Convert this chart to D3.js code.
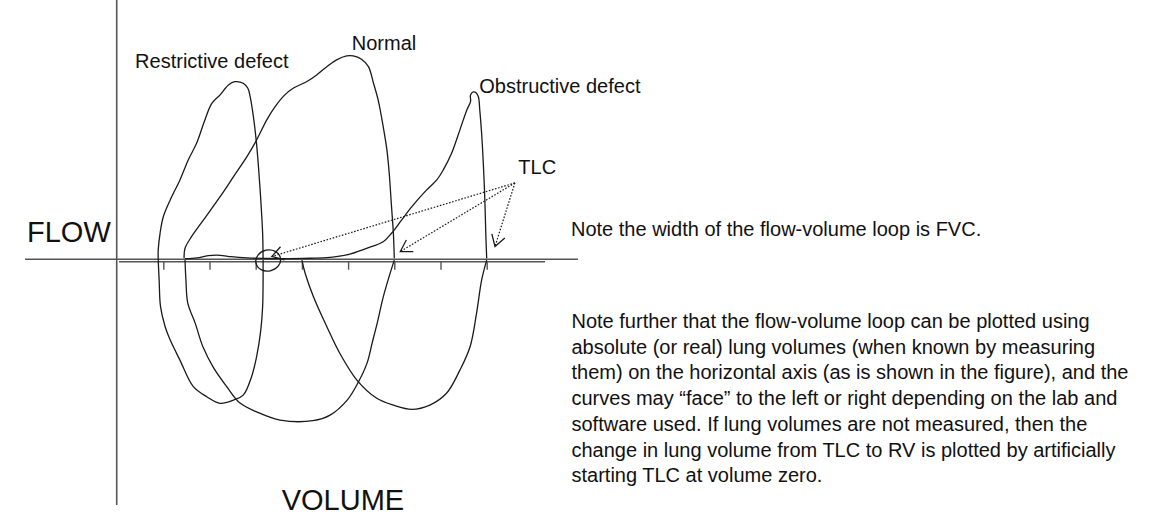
<!DOCTYPE html>
<html>
<head>
<meta charset="utf-8">
<script src="https://cdn.jsdelivr.net/npm/d3@7"></script>
<style>
  html, body { margin: 0; padding: 0; background: #fff; }
  svg { display: block; font-family: "Liberation Sans", Arial, sans-serif; }
</style>
</head>
<body>
<div id="chart"></div>
<script>
// flow-volume loops, hand-drawn sketch
// volume in litres (x), flow in L/s (y)

var volumeTicks = [1, 2, 3, 4, 5, 6, 7, 8];

var restrictiveExp = [[3.16,0.05],[3.15,1.3],[3.11,2.97],[3.06,4.63],[3.01,5.97],[2.95,7.13],[2.88,8.13],[2.83,8.55],
  [2.73,8.8],[2.55,8.88],[2.41,8.72],[2.23,8.22],[2.05,7.8],[1.9,6.97],[1.72,5.8],[1.54,4.97],[1.36,3.97],[1.15,2.97],
  [1.0,2.13],[0.93,1.3],[0.89,0.47],[0.89,-0.04]];
var restrictiveInsp = [[0.89,-0.04],[0.91,-1.04],[0.94,-2.37],[1.04,-3.37],[1.15,-4.04],[1.36,-5.04],[1.65,-6.37],
  [1.94,-6.87],[2.23,-7.2],[2.52,-7.04],[2.73,-6.79],[2.91,-5.87],[3.02,-4.87],[3.11,-3.54],[3.15,-2.37],[3.16,-1.04],[3.16,-0.04]];

var normalExp = [[6.0,0.05],[5.98,1.3],[5.94,2.63],[5.89,4.3],[5.84,5.47],[5.76,6.63],[5.65,7.97],[5.55,8.8],[5.44,9.63],
  [5.29,10.0],[5.11,10.17],[4.97,10.17],[4.75,9.97],[4.54,9.63],[4.32,9.22],[4.1,8.88],[3.81,8.55],[3.63,8.22],[3.42,7.63],
  [3.24,6.97],[3.02,5.97],[2.81,5.13],[2.52,4.13],[2.23,3.13],[1.87,1.97],[1.61,1.13],[1.47,0.55],[1.45,0.05]];
var normalInsp = [[1.47,-0.03],[1.49,-1.04],[1.53,-2.19],[1.69,-3.19],[1.86,-4.39],[2.08,-5.39],[2.38,-6.39],[2.66,-7.19],
  [3.03,-7.64],[3.53,-8.04],[4.24,-8.07],[4.61,-7.79],[4.98,-7.04],[5.21,-6.19],[5.41,-5.19],[5.52,-4.19],[5.63,-3.19],
  [5.76,-1.89],[5.91,-0.69],[6.0,-0.04]];

var obstructiveExp = [[8.0,0.05],[7.98,1.3],[7.96,2.97],[7.93,4.63],[7.89,6.3],[7.85,7.47],[7.82,8.13],[7.77,8.33],
  [7.71,8.37],[7.65,8.22],[7.65,7.88],[7.57,7.47],[7.42,6.47],[7.24,5.3],[7.06,4.47],[6.92,3.97],[6.7,3.47],[6.38,2.63],
  [6.16,1.97],[5.94,1.3],[5.76,0.88],[5.4,0.55],[4.97,0.22],[4.54,0.08],[4.03,0.05],[3.31,0.04],[2.81,0.07],[2.47,0.13],
  [2.23,0.2],[1.97,0.18],[1.73,0.07],[1.47,0.03]];
var obstructiveInsp = [[4.0,-0.04],[4.07,-0.7],[4.25,-1.87],[4.54,-3.37],[4.82,-4.7],[5.19,-6.04],[5.62,-6.95],[5.98,-7.29],
  [6.38,-7.5],[6.77,-7.29],[7.13,-6.7],[7.42,-5.54],[7.64,-4.37],[7.78,-2.7],[7.89,-1.04],[8.0,-0.04]];

var loopLabels = ["Restrictive defect", "Normal", "Obstructive defect"];
var labelPos = [[0.39,9.55], [5.08,10.47], [7.84,8.3]];   // [volume, flow] of label start (baseline)

var tlcLabel = "TLC";
var tlcOrigin = [8.61, 3.82];
var tlcTargets = [[3.35,0.14], [6.13,0.39], [8.18,0.64]];
var rvCircle = [3.27, -0.06];

var noteLine = "Note the width of the flow-volume loop is FVC.";
var noteParagraph = [
  "Note further that the flow-volume loop can be plotted using",
  "absolute (or real) lung volumes (when known by measuring",
  "them) on the horizontal axis (as is shown in the figure), and the",
  "curves may \u201cface\u201d to the left or right depending on the lab and",
  "software used. If lung volumes are not measured, then the",
  "change in lung volume from TLC to RV is plotted by artificially",
  "starting TLC at volume zero."
];

var width = 1174, height = 530;
var svg = d3.select("#chart").append("svg")
    .attr("width", width)
    .attr("height", height);

var x = d3.scaleLinear().domain([0, 8]).range([117.1, 486.7]);
var y = d3.scaleLinear().domain([0, 10]).range([259.3, 59.3]);

var axisColor = "#555";
var inkColor = "#1a1a1a";

// axes
svg.append("line")
    .attr("x1", 116.7).attr("x2", 116.7)
    .attr("y1", 0).attr("y2", 505)
    .attr("stroke", axisColor).attr("stroke-width", 1.6);
svg.append("line")
    .attr("x1", 25).attr("x2", 578)
    .attr("y1", y(0)).attr("y2", y(0))
    .attr("stroke", axisColor).attr("stroke-width", 1.5);
svg.append("line")
    .attr("x1", 119).attr("x2", 545)
    .attr("y1", y(0) + 2.4).attr("y2", y(0) + 2.4)
    .attr("stroke", axisColor).attr("stroke-width", 1.5);

var xAxis = svg.append("g")
    .attr("transform", "translate(0," + (y(0) + 2.4) + ")")
    .call(d3.axisBottom(x).tickValues(volumeTicks).tickSize(8).tickSizeOuter(0).tickFormat(""));
xAxis.select(".domain").remove();
xAxis.selectAll(".tick line").attr("stroke", axisColor).attr("stroke-width", 1.4);

// loops
var line = d3.line()
    .x(function(d) { return x(d[0]); })
    .y(function(d) { return y(d[1]); })
    .curve(d3.curveCatmullRom.alpha(0.5));

var curves = [restrictiveExp, restrictiveInsp, normalExp, normalInsp, obstructiveExp, obstructiveInsp];
svg.selectAll(".loop").data(curves).enter().append("path")
    .attr("class", "loop")
    .attr("d", line)
    .attr("fill", "none")
    .attr("stroke", inkColor)
    .attr("stroke-width", 1.3)
    .attr("stroke-linejoin", "round");

// little circle drawn round the restrictive TLC
svg.append("ellipse")
    .attr("cx", x(rvCircle[0]))
    .attr("cy", y(rvCircle[1]))
    .attr("rx", 12.5)
    .attr("ry", 10.5)
    .attr("transform", "rotate(-12," + x(rvCircle[0]) + "," + y(rvCircle[1]) + ")")
    .attr("fill", "none")
    .attr("stroke", inkColor)
    .attr("stroke-width", 1.3);

// TLC pointers
svg.selectAll(".tlc-line").data(tlcTargets).enter().append("line")
    .attr("class", "tlc-line")
    .attr("x1", x(tlcOrigin[0])).attr("y1", y(tlcOrigin[1]))
    .attr("x2", function(d) { return x(d[0]); })
    .attr("y2", function(d) { return y(d[1]); })
    .attr("stroke", inkColor)
    .attr("stroke-width", 1.2)
    .attr("stroke-dasharray", "1.6,1.6");

svg.selectAll(".tlc-head").data(tlcTargets).enter().append("path")
    .attr("class", "tlc-head")
    .attr("d", function(d) {
        var tx = x(d[0]), ty = y(d[1]);
        var a = Math.atan2(y(tlcOrigin[1]) - ty, x(tlcOrigin[0]) - tx);
        var len = 13, spread = 0.55;
        return "M" + (tx + len * Math.cos(a - spread)) + "," + (ty + len * Math.sin(a - spread)) +
               "L" + tx + "," + ty +
               "L" + (tx + len * Math.cos(a + spread)) + "," + (ty + len * Math.sin(a + spread));
    })
    .attr("fill", "none")
    .attr("stroke", inkColor)
    .attr("stroke-width", 1.3);

// labels
svg.selectAll(".loop-label").data(loopLabels).enter().append("text")
    .attr("class", "loop-label")
    .attr("x", function(d, i) { return x(labelPos[i][0]); })
    .attr("y", function(d, i) { return y(labelPos[i][1]); })
    .attr("font-size", 20)
    .attr("fill", "#111")
    .text(function(d) { return d; });

svg.append("text")
    .attr("x", 518.3).attr("y", 174.3)
    .attr("font-size", 20).attr("fill", "#111")
    .text(tlcLabel);

svg.append("text")
    .attr("x", 27).attr("y", 241.7)
    .attr("font-size", 29).attr("fill", "#111")
    .text("FLOW");

svg.append("text")
    .attr("x", 281.7).attr("y", 510)
    .attr("font-size", 29).attr("fill", "#111")
    .text("VOLUME");

// notes on the right
svg.append("text")
    .attr("x", 571).attr("y", 235.7)
    .attr("font-size", 20).attr("fill", "#111")
    .text(noteLine);

svg.selectAll(".note").data(noteParagraph).enter().append("text")
    .attr("class", "note")
    .attr("x", 571.5)
    .attr("y", function(d, i) { return 328 + i * 25.7; })
    .attr("font-size", 20)
    .attr("fill", "#111")
    .text(function(d) { return d; });
</script>
</body>
</html>
